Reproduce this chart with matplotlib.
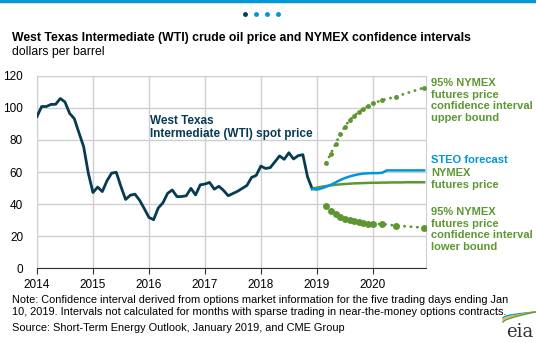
import matplotlib.pyplot as plt
import numpy as np

plt.rcParams['font.family'] = ['Liberation Sans', 'DejaVu Sans']

# monthly WTI spot price, Jan 2014 - Dec 2018
spot = [94.6, 100.8, 100.8, 102.1, 102.2, 105.8, 103.6, 96.5, 93.2, 84.4, 75.8, 59.3,
        47.2, 50.6, 47.8, 54.5, 59.3, 59.8, 50.9, 42.9, 45.5, 46.2, 42.4, 37.2,
        31.7, 30.3, 37.6, 40.8, 46.7, 48.8, 44.7, 44.7, 45.2, 49.8, 45.7, 52.0,
        52.5, 53.5, 49.3, 51.1, 48.5, 45.2, 46.6, 48.0, 49.8, 51.6, 56.6, 57.9,
        63.7, 62.2, 62.7, 66.3, 70.0, 67.9, 72.0, 68.1, 70.2, 70.8, 57.0, 49.5]
# STEO forecast and NYMEX futures, Dec 2018 - Dec 2020
steo = [49.5, 49.0, 49.8, 50.8, 52.0, 53.5, 55.0, 56.2, 57.2, 58.0, 58.6, 59.0, 59.2,
        59.3, 59.3, 59.5, 61.0, 61.0, 61.0, 61.0, 61.0, 61.0, 61.0, 61.0, 61.0]
futures = [49.5, 50.3, 50.8, 51.3, 51.7, 52.0, 52.3, 52.5, 52.7, 52.9, 53.0, 53.1, 53.2,
           53.3, 53.3, 53.4, 53.4, 53.5, 53.5, 53.5, 53.6, 53.6, 53.6, 53.6, 53.6]
# 95% confidence interval, months with sparse trading left out
ci_months = ['2019-03', '2019-04', '2019-05', '2019-06', '2019-07', '2019-08', '2019-09',
             '2019-10', '2019-11', '2019-12', '2020-01', '2020-03', '2020-06', '2020-12']
ci_upper = [65.8, 71.5, 77.5, 83.5, 88.3, 92.3, 95.1, 97.4, 99.3, 101.2, 102.8, 104.7, 107.0, 112.6]
ci_lower = [38.8, 35.8, 33.6, 32.2, 31.0, 30.1, 29.4, 28.9, 28.3, 27.9, 27.6, 27.6, 26.6, 25.3]
years = [2014, 2015, 2016, 2017, 2018, 2019, 2020]

navy = '#073b54'
blue = '#0096d7'
green = '#5d9732'

spot_x = 2014 + np.arange(len(spot)) / 12
fc_x = 2018 + 11 / 12 + np.arange(len(steo)) / 12
ci_x = np.array([int(m[:4]) + (int(m[5:]) - 1) / 12 for m in ci_months])

fig = plt.figure(figsize=(5.36, 3.43), dpi=100)
ax = fig.add_axes([37 / 536, 1 - 268.3 / 343, 389 / 536, 192.6 / 343])

ax.plot(spot_x, spot, color=navy, lw=2.0, solid_joinstyle='round', zorder=4)
ax.plot(fc_x, futures, color=green, lw=1.8, zorder=3)
ax.plot(fc_x, steo, color=blue, lw=1.8, zorder=4)
for vals, ms in [(ci_upper, 3.5), (ci_lower, 5.0)]:
    ax.plot(ci_x, vals, color=green, lw=2.0, linestyle=(0, (0.1, 2.2)),
            dash_capstyle='round', zorder=3)
    ax.plot(ci_x, vals, 'o', color=green, ms=ms, mec='none', zorder=3)

ax.set_xlim(2014, 2020.95)
ax.set_ylim(0, 120)
ax.set_yticks(range(0, 121, 20))
ax.set_xticks(years)
ax.set_xticklabels([str(y) for y in years])
ax.grid(True, color='#cfcfcf', lw=1.0)
ax.set_axisbelow(True)
for s in ['left', 'top', 'right']:
    ax.spines[s].set_color('#cfcfcf')
ax.spines['bottom'].set_color('#333333')
ax.tick_params(axis='y', length=0, pad=10, labelsize=8.5)
ax.tick_params(axis='x', length=4, color='#333333', pad=4, labelsize=8.5)

ax.text(2016.02, 95.5, 'West Texas\nIntermediate (WTI) spot price', color=navy,
        fontsize=8.5, fontweight='bold', va='top', linespacing=1.1)

lab = dict(transform=fig.transFigure, fontsize=8, fontweight='bold', va='top',
           linespacing=1.2)
fig.text(431 / 536, 1 - 78 / 343, '95% NYMEX\nfutures price\nconfidence interval\nupper bound',
         color=green, **lab)
fig.text(431 / 536, 1 - 155 / 343, 'STEO forecast', color=blue, **lab)
fig.text(431 / 536, 1 - 168 / 343, 'NYMEX\nfutures price', color=green, **lab)
fig.text(431 / 536, 1 - 207 / 343, '95% NYMEX\nfutures price\nconfidence interval\nlower bound',
         color=green, **lab)

fig.text(12 / 536, 1 - 38 / 343,
         'West Texas Intermediate (WTI) crude oil price and NYMEX confidence intervals',
         fontsize=8.8, fontweight='bold', va='center')
fig.text(12 / 536, 1 - 52 / 343, 'dollars per barrel', fontsize=8.8, va='center')
fig.text(12 / 536, 1 - 300 / 343,
         'Note: Confidence interval derived from options market information for the five trading days ending Jan',
         fontsize=7.9, va='center')
fig.text(12 / 536, 1 - 312 / 343,
         '10, 2019. Intervals not calculated for months with sparse trading in near-the-money options contracts.',
         fontsize=7.9, va='center')
fig.text(12 / 536, 1 - 328 / 343, 'Source: Short-Term Energy Outlook, January 2019, and CME Group',
         fontsize=7.9, va='center')

# header decoration and logo
fig.add_artist(plt.Line2D([0, 1], [1 - 1 / 343, 1 - 1 / 343], color=blue, lw=2.5))
for i, c in enumerate([navy, blue, blue, blue]):
    fig.add_artist(plt.Line2D([(245 + 11 * i) / 536], [1 - 14 / 343], marker='o',
                              ms=3.5, color=c, mec='none'))
fig.text(520 / 536, 1 - 332 / 343, 'eia', fontsize=13, color='#333333', ha='center',
         va='center', family='DejaVu Serif')
t = np.linspace(0, 1, 20)
for c, dy in [(blue, 0), ('#f2b233', 2), (green, 4)]:
    fig.add_artist(plt.Line2D((503 + 32 * t) / 536, 1 - (318 - 6 * t ** 0.5 + dy * (1 - t)) / 343,
                              color=c, lw=1.0))

fig.savefig('out.png', dpi=100)
